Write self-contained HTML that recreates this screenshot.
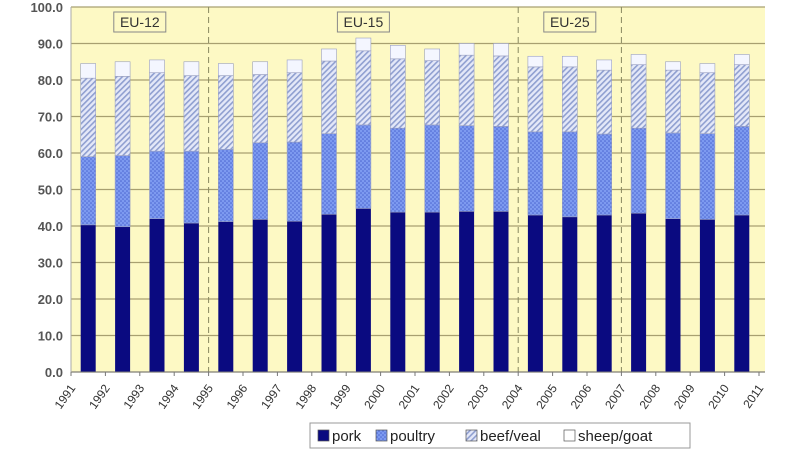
<!DOCTYPE html>
<html><head><meta charset="utf-8"><style>
body{margin:0;background:#fff;width:800px;height:450px;overflow:hidden;font-family:"Liberation Sans",sans-serif}
</style></head><body>
<svg id="c" width="800" height="450">
<defs>
<pattern id="dots" width="4" height="4" patternUnits="userSpaceOnUse"><rect width="4" height="4" fill="#7d9af0"/><circle cx="1" cy="1" r="0.8" fill="#4a64d0"/><circle cx="3" cy="3" r="0.8" fill="#4a64d0"/></pattern>
<pattern id="hatch" width="4" height="4" patternUnits="userSpaceOnUse" patternTransform="rotate(45)"><rect width="4" height="4" fill="#e4e8f8"/><rect width="1.6" height="4" fill="#8f9fd0"/></pattern>
</defs>
</svg>
<script>
const years=["1991","1992","1993","1994","1995","1996","1997","1998","1999","2000","2001","2002","2003","2004","2005","2006","2007","2008","2009","2010"];
const tickLabels=["1991","1992","1993","1994","1995","1996","1997","1998","1999","2000","2001","2002","2003","2004","2005","2006","2007","2008","2009","2010","2011"];
const pork=[40.3,39.8,42,40.8,41.2,41.8,41.3,43.2,44.8,43.8,43.8,44,44,43,42.5,43,43.5,42,41.8,43];
const poultry=[18.7,19.5,18.5,19.7,19.8,21,21.7,22.1,22.9,23,23.9,23.5,23.3,22.8,23.3,22.2,23.3,23.5,23.5,24.3];
const beef=[21.5,21.7,21.5,20.7,20.2,18.7,19,19.9,20.3,19,17.6,19.3,19.3,17.8,17.8,17.5,17.4,17.2,16.7,16.9];
const sheep=[4,4,3.5,3.8,3.3,3.5,3.5,3.3,3.5,3.7,3.2,3.2,3.4,2.9,2.9,2.8,2.8,2.3,2.5,2.8];
const yTicks=[0,10,20,30,40,50,60,70,80,90,100];
const dividers=[4,13,16];
const periodLabels=[["EU-12",0,4],["EU-15",4,13],["EU-25",13,16]];
const NS="http://www.w3.org/2000/svg",svg=document.getElementById('c');
const L=71,R=765,T=7,B=372,slot=34.4;
const y=v=>B-(B-T)*v/100;
const x=i=>L+i*slot;
function el(t,a,p){const e=document.createElementNS(NS,t);for(const k in a)e.setAttribute(k,a[k]);(p||svg).appendChild(e);return e;}
const bg=el('rect',{x:L,y:T,width:R-L,height:B-T,fill:'#fdf9c4'});


yTicks.forEach(v=>{
 const g=el('line',{x1:L,x2:R,y1:y(v),y2:y(v),stroke:'#a8a070','stroke-width':1.3});
 
 
 const t=el('text',{x:L-8,y:y(v)+5,'text-anchor':'end','font-size':13,'font-weight':'bold',fill:'#555'});
 t.textContent=v.toFixed(1);
 
 
});
dividers.forEach(i=>{
 const d=el('line',{x1:x(i),x2:x(i),y1:T,y2:B,stroke:'#888860','stroke-dasharray':'6,4'});
 
 
});
periodLabels.forEach(p=>{
 const cx=(p[1]+p[2])/2*slot+L;
 const r=el('rect',{x:cx-26,y:12,width:52,height:20,fill:'#fdf9c4',stroke:'#888','stroke-width':1});
 
 
 const t=el('text',{x:cx,y:27,'text-anchor':'middle','font-size':14,fill:'#333'});
 t.textContent=p[0];
 
 
});
const series=[[pork,'#0a0a80','pork'],[poultry,'url(#dots)','poultry'],[beef,'url(#hatch)','beef-veal'],[sheep,'#f4f6ff','sheep-goat']];
years.forEach((yr,i)=>{
 let base=0;const bx=x(i)+slot/2-7.5;
 series.forEach(s=>{
  const v=s[0][i];
  const r=el('rect',{x:bx,y:y(base+v),width:15,height:y(base)-y(base+v),fill:s[1],stroke:s[2]==='pork'?'none':'#9aa0c0','stroke-width':0.6});
  
  
  base+=v;
 });
});
el('line',{x1:L,x2:R,y1:B,y2:B,stroke:'#777','stroke-width':1});
el('line',{x1:L,x2:L,y1:T,y2:B,stroke:'#aaa','stroke-width':1});
tickLabels.forEach((lb,i)=>{
 el('line',{x1:x(i),x2:x(i),y1:B,y2:B+4,stroke:'#777'});
 const t=el('text',{x:x(i)+5,y:B+16,'text-anchor':'end','font-size':12,fill:'#333',transform:`rotate(-55 ${x(i)+5} ${B+16})`});
 t.textContent=lb;
 
 
});
const lg=el('g',{});


el('rect',{x:310,y:423,width:380,height:25,fill:'#fff',stroke:'#999'},lg);
[['pork','#0a0a80',318],['poultry','url(#dots)',376],['beef/veal','url(#hatch)',466],['sheep/goat','#fff',564]].forEach(e=>{
 el('rect',{x:e[2],y:430,width:11,height:11,fill:e[1],stroke:'#555','stroke-width':0.7},lg);
 const t=el('text',{x:e[2]+14,y:441,'font-size':15,fill:'#222'},lg);
 t.textContent=e[0];
 
 
});
</script>
</body></html>
